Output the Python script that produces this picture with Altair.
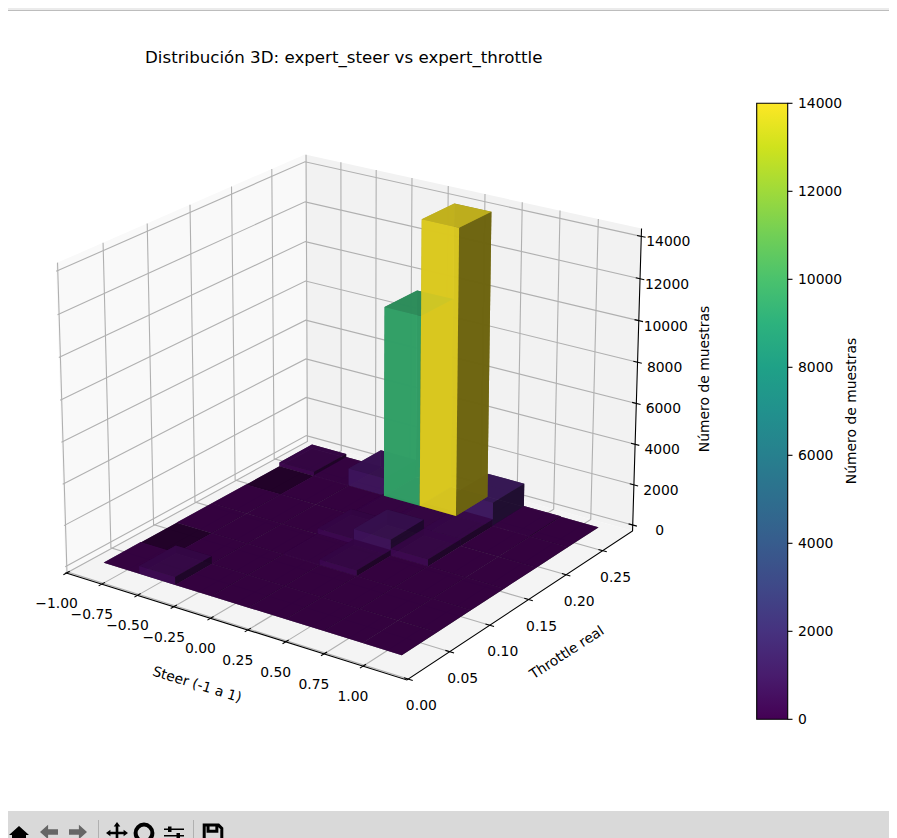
"""3D bar histogram of expert_steer vs expert_throttle, projected by hand for Altair"""

import altair as alt
import numpy as np
import pandas as pd

# Histogram cells
STEER_EDGES = [-0.865, -0.615, -0.365, -0.115, 0.135, 0.385, 0.635, 0.885, 1.135]
THROTTLE_EDGES = [0.0192, 0.0617, 0.1042, 0.1467, 0.1892, 0.2317, 0.2742]
COUNTS_T0 = [20, 380, 10, 10, 10, 10, 10, 10]
COUNTS_T1 = [0, 10, 10, 10, 10, 10, 10, 10]
COUNTS_T2 = [10, 10, 10, 40, 280, 10, 10, 10]
COUNTS_T3 = [10, 10, 10, 290, 780, 340, 10, 10]
COUNTS_T4 = [0, 10, 10, 100, 200, 350, 10, 10]
COUNTS_T5 = [200, 40, 880, 9400, 14050, 1170, 40, 10]
COUNT_ROWS = [COUNTS_T0, COUNTS_T1, COUNTS_T2, COUNTS_T3, COUNTS_T4, COUNTS_T5]

# Axes
STEER_LIM = (-1.008, 1.278)
THROTTLE_LIM = (-0.0017, 0.2923)
COUNT_LIM = (-293, 14367)
STEER_TICKS = [-1.0, -0.75, -0.5, -0.25, 0.0, 0.25, 0.5, 0.75, 1.0]
THROTTLE_TICKS = [0.0, 0.05, 0.1, 0.15, 0.2, 0.25]
COUNT_TICKS = [0, 2000, 4000, 6000, 8000, 10000, 12000, 14000]

# Camera
ELEV, AZIM, DIST = 21.0, -55.0, 10.0
BOX = np.array([4, 4, 3.0]) * 1.8294640721620434 * 25 / 24 / np.sqrt(41)
PX_X, PX_CX, PX_Y, PX_CY = 3474.6, 352.8, 3667.5, 401.05

# Page
W, H = 881, 830
FONT = "DejaVu Sans"
TICK_SIZE = 13.9
GRID_COLOR = "#b0b0b0"
VIRIDIS = ["#440154", "#482475", "#414487", "#355f8d", "#2a788e", "#21918c",
           "#22a884", "#44bf70", "#7ad151", "#bddf26", "#fde725"]
SHADE = {"top": 0.77, "bottom": 0.45, "front": 0.885, "back": 0.5, "left": 0.7, "right": 0.43}
BAR_OPACITY = 0.9
TALL_BAR = 5000  # tall bars are painted over the low ones

e, a = np.radians(ELEV), np.radians(AZIM)
W_DIR = np.array([np.cos(e) * np.cos(a), np.cos(e) * np.sin(a), np.sin(e)])
U_DIR = np.cross([0, 0, 1], W_DIR)
U_DIR = U_DIR / np.linalg.norm(U_DIR)
V_DIR = np.cross(W_DIR, U_DIR)


def project(x, y, z):
    """Same view as mplot3d: data value to projected coordinates and depth."""
    p = np.array([
        (x - STEER_LIM[0]) / (STEER_LIM[1] - STEER_LIM[0]),
        (y - THROTTLE_LIM[0]) / (THROTTLE_LIM[1] - THROTTLE_LIM[0]),
        (z - COUNT_LIM[0]) / (COUNT_LIM[1] - COUNT_LIM[0]),
    ]) * BOX - BOX / 2
    depth = DIST - p @ W_DIR
    return (p @ U_DIR) / depth, (p @ V_DIR) / depth, depth


def face_color(count, shade):
    t = min(count / max(map(max, COUNT_ROWS)), 1) * 10
    i = min(int(t), 9)
    lo = np.array([int(VIRIDIS[i][k:k + 2], 16) for k in (1, 3, 5)])
    hi = np.array([int(VIRIDIS[i + 1][k:k + 2], 16) for k in (1, 3, 5)])
    rgb = (lo + (hi - lo) * (t - i)) * shade
    return "#%02x%02x%02x" % tuple(int(v) for v in rgb)


def path_rows(name, corners, **extra):
    rows = []
    for idx, c in enumerate(corners):
        tx, ty, _ = project(*c)
        rows.append({"name": name, "idx": idx, "tx": tx, "ty": ty, **extra})
    return rows


x0, x1 = STEER_LIM
y0, y1 = THROTTLE_LIM
z0, z1 = COUNT_LIM

# Panes
pane_rows = []
pane_rows += path_rows("wall_x", [(x0, y0, z0), (x0, y1, z0), (x0, y1, z1), (x0, y0, z1), (x0, y0, z0)], fill="#f9f9f9")
pane_rows += path_rows("wall_y", [(x0, y1, z0), (x1, y1, z0), (x1, y1, z1), (x0, y1, z1), (x0, y1, z0)], fill="#f2f2f2")
pane_rows += path_rows("floor", [(x0, y0, z0), (x1, y0, z0), (x1, y1, z0), (x0, y1, z0), (x0, y0, z0)], fill="#f4f4f4")
panes = pd.DataFrame(pane_rows)

# Grid lines
grid_rows = []
for v in STEER_TICKS:
    grid_rows += path_rows(f"gx{v}", [(v, y0, z0), (v, y1, z0), (v, y1, z1)])
for v in THROTTLE_TICKS:
    grid_rows += path_rows(f"gy{v}", [(x1, v, z0), (x0, v, z0), (x0, v, z1)])
for v in COUNT_TICKS:
    grid_rows += path_rows(f"gz{v}", [(x0, y0, v), (x0, y1, v), (x1, y1, v)])
grid = pd.DataFrame(grid_rows)

# Axis lines and tick marks
DX = 0.012 * (x1 - x0)
DY = 0.012 * (y1 - y0)
axis_rows = []
axis_rows += path_rows("ax", [(x0, y0, z0), (x1, y0, z0), (x1, y1, z0), (x1, y1, z1)])
for v in STEER_TICKS:
    axis_rows += path_rows(f"tx{v}", [(v, y0 - DY, z0), (v, y0 + DY, z0)])
for v in THROTTLE_TICKS:
    axis_rows += path_rows(f"ty{v}", [(x1 - DX, v, z0), (x1 + DX, v, z0)])
for v in COUNT_TICKS:
    axis_rows += path_rows(f"tz{v}", [(x1 - DX, y1, v), (x1 + DX, y1, v)])
axes_df = pd.DataFrame(axis_rows)

# Bars, far faces first like Poly3DCollection's average zsort
faces = []
for j, row in enumerate(COUNT_ROWS):
    for i, count in enumerate(row):
        a0, a1 = STEER_EDGES[i], STEER_EDGES[i + 1]
        b0, b1 = THROTTLE_EDGES[j], THROTTLE_EDGES[j + 1]
        quads = {
            "top": [(a0, b0, count), (a1, b0, count), (a1, b1, count), (a0, b1, count)],
            "bottom": [(a0, b0, 0), (a1, b0, 0), (a1, b1, 0), (a0, b1, 0)],
        }
        if count > 0:
            quads["front"] = [(a0, b0, 0), (a1, b0, 0), (a1, b0, count), (a0, b0, count)]
            quads["back"] = [(a0, b1, 0), (a1, b1, 0), (a1, b1, count), (a0, b1, count)]
            quads["left"] = [(a0, b0, 0), (a0, b1, 0), (a0, b1, count), (a0, b0, count)]
            quads["right"] = [(a1, b0, 0), (a1, b1, 0), (a1, b1, count), (a1, b0, count)]
        for side, quad in quads.items():
            depth = np.mean([project(*c)[2] for c in quad])
            faces.append((count >= TALL_BAR, -depth, f"{i}-{j}-{side}", quad, face_color(count, SHADE[side])))
faces.sort(key=lambda f: f[:2])
bar_rows = []
for _, _, name, quad, fill in faces:
    bar_rows += path_rows(name, quad + quad[:1], fill=fill)
bars = pd.DataFrame(bar_rows)

# Tick labels
def minus(text):
    return text.replace("-", "\u2212")


steer_labels = pd.DataFrame([
    dict(zip(("tx", "ty"), project(v, y0, z0)[:2]), label=minus(f"{v:.2f}")) for v in STEER_TICKS
])
throttle_labels = pd.DataFrame([
    dict(zip(("tx", "ty"), project(x1, v, z0)[:2]), label=f"{v:.2f}") for v in THROTTLE_TICKS
])
count_labels = pd.DataFrame([
    dict(zip(("tx", "ty"), project(x1, y1, v)[:2]), label=str(v)) for v in COUNT_TICKS
])

# Scales: projected coordinates to chart pixels, page margin taken out
X = alt.X("tx:Q", axis=None, scale=alt.Scale(
    domain=[(8 - PX_CX) / PX_X, (8 + W - PX_CX) / PX_X], zero=False, nice=False))
Y = alt.Y("ty:Q", axis=None, scale=alt.Scale(
    domain=[(PX_CY - 8 - H) / PX_Y, (PX_CY - 8) / PX_Y], zero=False, nice=False))


def polygons(df, **mark):
    return alt.Chart(df).mark_line(strokeWidth=0, **mark).encode(
        x=X, y=Y, detail="name:N", order="idx:Q", fill=alt.Fill("fill:N", scale=None)
    )


def lines(df, color, width):
    return alt.Chart(df).mark_line(color=color, strokeWidth=width).encode(
        x=X, y=Y, detail="name:N", order="idx:Q"
    )


def tick_text(df, dx, dy):
    return alt.Chart(df).mark_text(font=FONT, fontSize=TICK_SIZE, color="black", dx=dx, dy=dy).encode(
        x=X, y=Y, text="label:N"
    )


def label_text(text, px, py, angle=0):
    return alt.Chart(pd.DataFrame({"label": [text]})).mark_text(
        font=FONT, fontSize=TICK_SIZE, color="black", angle=angle
    ).encode(x=alt.value(px - 8), y=alt.value(py - 8), text="label:N")


def band(px0, py0, px1, py1, color):
    return alt.Chart(pd.DataFrame({"a": [0]})).mark_rect(color=color).encode(
        x=alt.value(px0), x2=alt.value(px1), y=alt.value(py0), y2=alt.value(py1)
    )


def icon(path, px, py, size, color="black", filled=True, stroke=0):
    return alt.Chart(pd.DataFrame({"a": [0]})).mark_point(
        shape=path, size=size, filled=filled, color=color, strokeWidth=stroke, opacity=1
    ).encode(x=alt.value(px - 8), y=alt.value(py - 8))


# Colorbar, from a real gradient legend; its ticks and labels go through the y scale
colorbar = alt.Chart(pd.DataFrame({"count": [0, 14000]})).mark_point(filled=True, size=0, opacity=1).encode(
    x=alt.value(0), y=alt.value(0),
    color=alt.Color("count:Q", scale=alt.Scale(scheme="viridis", domain=[0, 14000]), legend=alt.Legend(
        title=None, orient="none", legendX=748.7, legendY=95.3, direction="vertical",
        gradientLength=616, gradientThickness=31, gradientStrokeColor="black", gradientStrokeWidth=1.1,
        labelExpr="''",
    )),
)
BAR_TOP, BAR_LEN = 103.3, 616
cbar_ticks = pd.DataFrame({
    "ty": [(PX_CY - (BAR_TOP + BAR_LEN - BAR_LEN * v / 14000)) / PX_Y for v in COUNT_TICKS],
    "label": [str(v) for v in COUNT_TICKS],
})
colorbar_ticks = alt.Chart(cbar_ticks).mark_rule(color="black", strokeWidth=1.1).encode(
    y=Y, x=alt.value(779.5), x2=alt.value(784.5)
)
colorbar_labels = alt.Chart(cbar_ticks).mark_text(
    font=FONT, fontSize=TICK_SIZE, color="black", align="left", dy=1
).encode(y=Y, x=alt.value(790), text="label:N")

# Window chrome
HOME = "M0,-1L1,-0.1L0.7,-0.1L0.7,0.9L0.2,0.9L0.2,0.3L-0.2,0.3L-0.2,0.9L-0.7,0.9L-0.7,-0.1L-1,-0.1Z"
BACK = "M-1,0L-0.1,-0.8L-0.1,-0.3L1,-0.3L1,0.3L-0.1,0.3L-0.1,0.8Z"
FORWARD = "M1,0L0.1,-0.8L0.1,-0.3L-1,-0.3L-1,0.3L0.1,0.3L0.1,0.8Z"
MOVE = ("M0,-1L0.3,-0.6L0.12,-0.6L0.12,-0.12L0.6,-0.12L0.6,-0.3L1,0L0.6,0.3L0.6,0.12L0.12,0.12L0.12,0.6L0.3,0.6"
        "L0,1L-0.3,0.6L-0.12,0.6L-0.12,0.12L-0.6,0.12L-0.6,0.3L-1,0L-0.6,-0.3L-0.6,-0.12L-0.12,-0.12L-0.12,-0.6L-0.3,-0.6Z")
LENS = "M0.7,0A0.7,0.7 0 1,1 -0.7,0A0.7,0.7 0 1,1 0.7,0Z"
SLIDERS = ("M-1,-0.65L1,-0.65L1,-0.5L-1,-0.5ZM-0.6,-0.85L-0.25,-0.85L-0.25,-0.3L-0.6,-0.3Z"
           "M-1,0L1,0L1,0.15L-1,0.15ZM0.25,-0.2L0.6,-0.2L0.6,0.35L0.25,0.35Z"
           "M-1,0.6L1,0.6L1,0.75L-1,0.75ZM-0.6,0.4L-0.25,0.4L-0.25,0.95L-0.6,0.95Z")
SAVE = "M-0.8,-0.9L0.5,-0.9L0.8,-0.6L0.8,0.9L-0.8,0.9ZM-0.45,-0.9L-0.45,-0.35L0.35,-0.35L0.35,-0.9"

title = alt.TitleParams(
    "Distribución 3D: expert_steer vs expert_throttle",
    anchor="start", dx=137, dy=59, offset=0, font=FONT, fontSize=16.67,
    fontWeight="normal", color="black",
)

chart = alt.layer(
    band(0, 0, W, 2, "#ebebeb"),
    band(0, 2, W, 3, "#bdbdbd"),
    band(0, 803, W, H, "#d9d9d9"),
    band(90, 812, 91, H, "#b0b0b0"),
    band(185, 812, 186, H, "#b0b0b0"),
    icon(HOME, 19, 836, 400),
    icon(BACK, 49, 832, 324, color="#666666"),
    icon(FORWARD, 78, 832, 324, color="#666666"),
    icon(MOVE, 117, 833, 484),
    icon(LENS, 144, 833, 576, filled=False, stroke=4),
    icon(SLIDERS, 174, 835, 400),
    icon(SAVE, 213, 835, 484, filled=False, stroke=3),
    polygons(panes),
    lines(grid, GRID_COLOR, 1.1),
    lines(axes_df, "black", 1.1),
    polygons(bars, fillOpacity=BAR_OPACITY),
    tick_text(steer_labels, -10, 31),
    tick_text(throttle_labels, 13, 27),
    tick_text(count_labels, 27, 6),
    label_text("Steer (-1 a 1)", 197, 685, angle=17),
    label_text("Throttle real", 567, 653, angle=327),
    label_text("Número de muestras", 705, 379, angle=270),
    label_text("Número de muestras", 852, 411, angle=270),
    colorbar_ticks,
    colorbar_labels,
    colorbar,
).properties(
    width=W, height=H, title=title, padding=0,
    autosize=alt.AutoSizeParams(type="none"),
).configure_view(stroke=None)

chart.save("out.html", embed_options={"renderer": "svg", "actions": False})
